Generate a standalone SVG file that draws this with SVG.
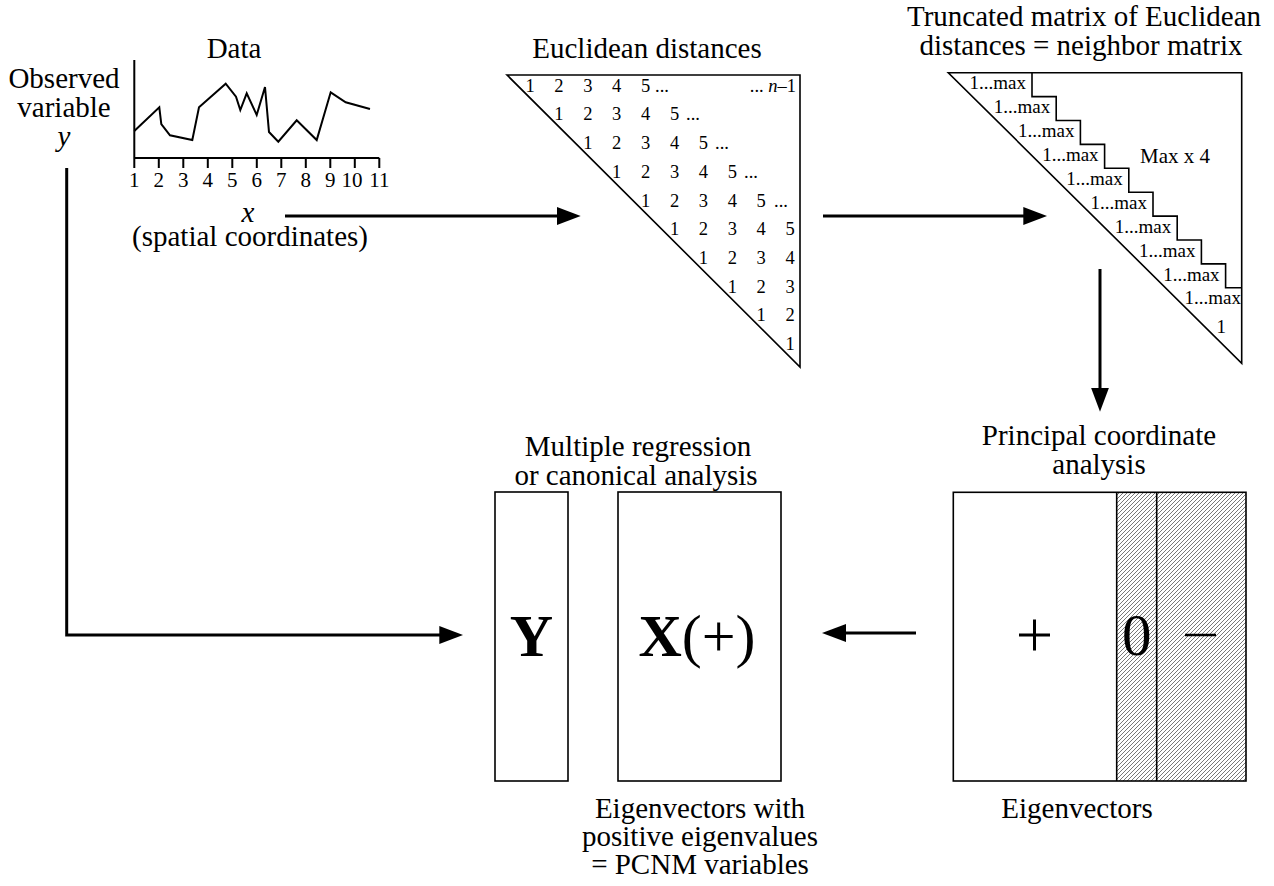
<svg xmlns="http://www.w3.org/2000/svg" width="1274" height="886" viewBox="0 0 1274 886">
<defs>
<style>
text{font-family:"Liberation Serif","Times New Roman",serif;fill:#000}
.t29{font-size:29px}
.mid{text-anchor:middle}
.end{text-anchor:end}
.m{font-size:18.5px}
.tm{font-size:19px;text-anchor:end}
.thin{fill:none;stroke:#000;stroke-width:1.6}
.conn{fill:none;stroke:#000;stroke-width:3}
.big{font-size:60px;text-anchor:middle}
</style>
<marker id="ah" markerWidth="24" markerHeight="18" refX="2" refY="9" orient="auto" markerUnits="userSpaceOnUse">
<path d="M0,0 L24,9 L0,18 z" fill="#000"/>
</marker>
<pattern id="hatch" patternUnits="userSpaceOnUse" width="4" height="4">
<rect width="4" height="4" fill="#fff"/>
<path d="M-1,1 L1,-1 M0,4 L4,0 M3,5 L5,3" stroke="#555" stroke-width="0.8"/>
</pattern>
</defs>
<rect width="1274" height="886" fill="#fff"/>

<g id="data">
<text class="t29 mid" x="234" y="58">Data</text>
<text class="t29 mid" x="64" y="88">Observed</text>
<text class="t29 mid" x="64" y="117">variable</text>
<text class="t29 mid" x="64" y="146" font-style="italic">y</text>
<path d="M134.3,60 V168 M134.3,158 H379.3" fill="none" stroke="#000" stroke-width="2"/>
<path d="M158.8,158 v10 M183.3,158 v10 M207.8,158 v10 M232.3,158 v10 M256.8,158 v10 M281.3,158 v10 M305.8,158 v10 M330.3,158 v10 M354.8,158 v10 M379.3,158 v10" stroke="#000" stroke-width="2"/>
<g font-size="21" text-anchor="middle">
<text x="134.3" y="187">1</text><text x="158.8" y="187">2</text><text x="183.3" y="187">3</text><text x="207.8" y="187">4</text><text x="232.3" y="187">5</text><text x="256.8" y="187">6</text><text x="281.3" y="187">7</text><text x="305.8" y="187">8</text><text x="330.3" y="187">9</text><text x="352" y="187">10</text><text x="379.3" y="187">11</text>
</g>
<polyline points="134.3,131 159.3,107.3 161.3,124 170,135.3 192.3,140 199,107.3 225.7,83.7 236,96.7 240.3,110 246.7,93.3 256.7,115 265,87 269,132 278.3,141.7 296.7,120.3 316.7,140 330.7,92.3 345.7,102.3 370,109" fill="none" stroke="#000" stroke-width="2" stroke-linejoin="miter"/>
<text class="t29 mid" x="248" y="222" font-style="italic">x</text>
<text class="t29 mid" x="250" y="246">(spatial coordinates)</text>
</g>

<g id="euclid">
<text class="t29 mid" x="647" y="58">Euclidean distances</text>
<path class="thin" d="M507,75 H800 V367 Z"/>
<g class="m" text-anchor="middle">
<text x="530" y="91.7">1</text><text x="558.9" y="91.7">2</text><text x="587.8" y="91.7">3</text><text x="616.7" y="91.7">4</text><text x="645.6" y="91.7">5</text>
<text x="655" y="91.7" text-anchor="start">...</text>
<text x="796" y="91.7" text-anchor="end">... <tspan font-style="italic">n</tspan>–1</text>
<text x="558.9" y="120.4">1</text><text x="587.8" y="120.4">2</text><text x="616.7" y="120.4">3</text><text x="645.6" y="120.4">4</text><text x="674.5" y="120.4">5</text>
<text x="686" y="120.4" text-anchor="start">...</text>
<text x="587.8" y="149.1">1</text><text x="616.7" y="149.1">2</text><text x="645.6" y="149.1">3</text><text x="674.5" y="149.1">4</text><text x="703.4" y="149.1">5</text>
<text x="715" y="149.1" text-anchor="start">...</text>
<text x="616.7" y="177.8">1</text><text x="645.6" y="177.8">2</text><text x="674.5" y="177.8">3</text><text x="703.4" y="177.8">4</text><text x="732.3" y="177.8">5</text>
<text x="744" y="177.8" text-anchor="start">...</text>
<text x="645.6" y="206.5">1</text><text x="674.5" y="206.5">2</text><text x="703.4" y="206.5">3</text><text x="732.3" y="206.5">4</text><text x="761.2" y="206.5">5</text>
<text x="774" y="206.5" text-anchor="start">...</text>
<text x="674.5" y="235.2">1</text><text x="703.4" y="235.2">2</text><text x="732.3" y="235.2">3</text><text x="761.2" y="235.2">4</text><text x="790" y="235.2">5</text>
<text x="703.4" y="263.9">1</text><text x="732.3" y="263.9">2</text><text x="761.2" y="263.9">3</text><text x="790" y="263.9">4</text>
<text x="732.3" y="292.6">1</text><text x="761.2" y="292.6">2</text><text x="790" y="292.6">3</text>
<text x="761.2" y="321.3">1</text><text x="790" y="321.3">2</text>
<text x="790" y="350">1</text>
</g>
</g>

<g id="truncated">
<text class="t29 mid" x="1084" y="26">Truncated matrix of Euclidean</text>
<text class="t29 mid" x="1081" y="55">distances = neighbor matrix</text>
<path class="thin" d="M948.3,72.7 H1241.7 V363.3 Z"/>
<path class="thin" d="M1032,72.7 V96.6 H1056.2 V120.5 H1080.4 V144.4 H1104.6 V168.3 H1128.8 V192.2 H1153 V216.1 H1177.2 V240 H1201.4 V263.9 H1225.6 V287.8 H1241.7"/>
<g>
<text class="tm" x="1026" y="89.3">1...max</text>
<text class="tm" x="1050.2" y="113.2">1...max</text>
<text class="tm" x="1074.4" y="137.1">1...max</text>
<text class="tm" x="1098.6" y="161">1...max</text>
<text class="tm" x="1122.8" y="184.9">1...max</text>
<text class="tm" x="1147" y="208.8">1...max</text>
<text class="tm" x="1171.2" y="232.7">1...max</text>
<text class="tm" x="1195.4" y="256.6">1...max</text>
<text class="tm" x="1219.6" y="280.5">1...max</text>
<text class="tm" x="1241" y="304.4">1...max</text>
<text class="tm" x="1226" y="333">1</text>
</g>
<text x="1140" y="163" font-size="21">Max x 4</text>
</g>

<g id="pcoa">
<text class="t29 mid" x="1099" y="445">Principal coordinate</text>
<text class="t29 mid" x="1099" y="474">analysis</text>
<rect x="1116.7" y="492.3" width="129.3" height="288.7" fill="url(#hatch)"/>
<rect class="thin" x="953.3" y="492.3" width="292.7" height="288.7"/>
<path class="thin" d="M1116.7,492.3 V781 M1156.7,492.3 V781"/>
<path d="M1019,635 H1050 M1034.5,619.5 V650.5" stroke="#000" stroke-width="3"/>
<text x="1136.7" y="655" font-size="59" text-anchor="middle">0</text>
<path d="M1185,635 H1216" stroke="#000" stroke-width="2.5"/>
<text class="t29 mid" x="1077" y="818">Eigenvectors</text>
</g>

<g id="regression">
<text class="t29 mid" x="638" y="456">Multiple regression</text>
<text class="t29 mid" x="636" y="485">or canonical analysis</text>
</g>

<g id="ybox">
<rect class="thin" x="495" y="492" width="73" height="289"/>
<text class="big" x="531.5" y="656" font-weight="bold">Y</text>
</g>

<g id="xbox">
<rect class="thin" x="618" y="492" width="163" height="289"/>
<text class="big" x="697" y="656"><tspan font-weight="bold">X</tspan>(+)</text>
<text class="t29 mid" x="700" y="818">Eigenvectors with</text>
<text class="t29 mid" x="700" y="846">positive eigenvalues</text>
<text class="t29 mid" x="700" y="874">= PCNM variables</text>
</g>

<g id="connectors">
<path class="conn" d="M285,216 H558.7" marker-end="url(#ah)"/>
<path class="conn" d="M823,216 H1025.3" marker-end="url(#ah)"/>
<path class="conn" d="M1100,269 V389.7" marker-end="url(#ah)"/>
<path class="conn" d="M916,633 H844" marker-end="url(#ah)"/>
<path class="conn" d="M66.7,168 V635 H441.3" marker-end="url(#ah)"/>
</g>
</svg>
